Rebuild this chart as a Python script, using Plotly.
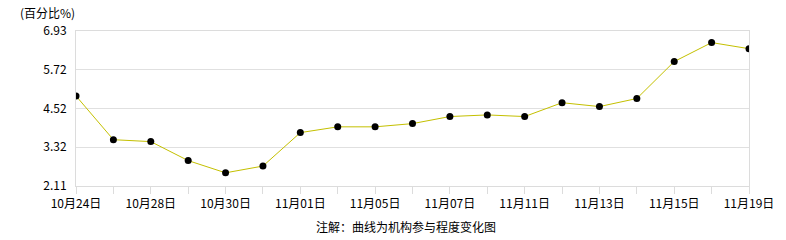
import plotly.graph_objects as go

dates = ["10月24日", "10月25日", "10月28日", "10月29日", "10月30日", "10月31日",
         "11月01日", "11月04日", "11月05日", "11月06日", "11月07日", "11月08日",
         "11月11日", "11月12日", "11月13日", "11月14日", "11月15日", "11月18日",
         "11月19日"]
values = [4.91, 3.55, 3.49, 2.90, 2.52, 2.73, 3.77, 3.95, 3.95, 4.05, 4.27,
          4.32, 4.27, 4.70, 4.58, 4.83, 5.98, 6.57, 6.38]
y_ticks = [2.11, 3.32, 4.52, 5.72, 6.93]
label_every = 2

idx = list(range(len(dates)))
ticktext = [d if i % label_every == 0 else "" for i, d in enumerate(dates)]

FONT = "Noto Sans CJK SC, SimSun, sans-serif"

fig = go.Figure()
fig.add_trace(go.Scatter(
    x=idx, y=values, mode="lines+markers",
    line=dict(color="#c4c000", width=1),
    marker=dict(color="#000000", size=7),
    hoverinfo="y",
))

W, H = 786, 240
L, R, T, B = 76, 26, 31, 54
pw = W - L - R
ph = H - T - B


def px_x(x):
    return (x - L) / pw


def px_y(y):
    return (H - B - y) / ph


fig.update_layout(
    width=W, height=H,
    margin=dict(l=L, r=R, t=T, b=B),
    paper_bgcolor="white", plot_bgcolor="white",
    showlegend=False,
    font=dict(family=FONT, size=12, color="#000000"),
    xaxis=dict(
        range=[0, len(dates) - 1],
        tickmode="array", tickvals=idx, ticktext=ticktext,
        showgrid=False, zeroline=False,
        showline=True, linecolor="#dcdcdc", linewidth=1, mirror=True,
        ticks="outside", ticklen=7, tickcolor="#dcdcdc", tickwidth=1,
        tickfont=dict(family=FONT, size=12, color="#000000"),
        fixedrange=True,
    ),
    yaxis=dict(
        range=[y_ticks[0], y_ticks[-1]],
        tickmode="array", tickvals=y_ticks,
        ticktext=[f"{v:.2f}" for v in y_ticks],
        showgrid=True, gridcolor="#e0e0e0", gridwidth=1, zeroline=False,
        showline=True, linecolor="#dcdcdc", linewidth=1, mirror=True,
        ticks="", ticklabelstandoff=6,
        tickfont=dict(family=FONT, size=12, color="#000000"),
        fixedrange=True,
    ),
    annotations=[
        dict(text="(百分比%)", xref="paper", yref="paper",
             x=px_x(17), y=px_y(12),
             xanchor="left", yanchor="middle", showarrow=False,
             font=dict(family=FONT, size=12, color="#000000")),
        dict(text="注解：曲线为机构参与程度变化图", xref="paper", yref="paper",
             x=px_x(411), y=px_y(226),
             xanchor="center", yanchor="middle", showarrow=False,
             font=dict(family=FONT, size=12, color="#000000")),
    ],
)

fig.write_html("out.html")
